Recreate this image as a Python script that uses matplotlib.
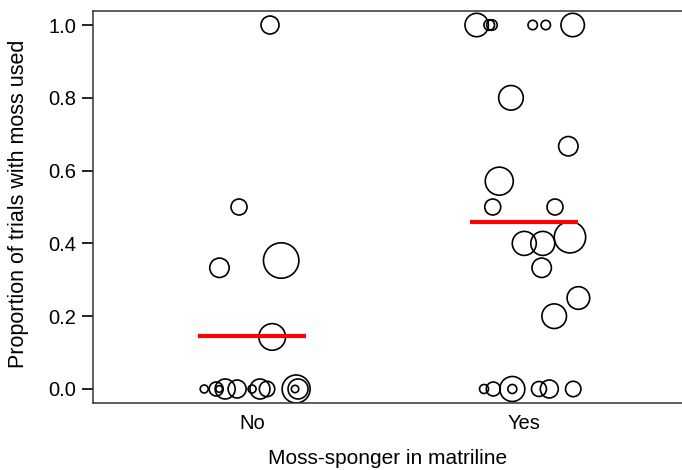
import numpy as np
import matplotlib
matplotlib.use('Agg')
import matplotlib.pyplot as plt

plt.rcParams['font.family'] = ['Liberation Sans', 'DejaVu Sans']

# group labels and positions
groups = ['No', 'Yes']

# "No" matriline: jitter offset, proportion, bubble radius (px)
no_jit = [0.066, -0.048, -0.120, 0.107, 0.074,
          -0.176, -0.132, -0.121, -0.099, -0.055, 0.0, 0.029, 0.055, 0.162, 0.169, 0.158]
no_prop = [1.0, 0.5, 0.333, 0.353, 0.143,
           0, 0, 0, 0, 0, 0, 0, 0, 0, 0, 0]
no_r = [9, 8, 9.7, 17.7, 13.3,
        4, 7, 3.3, 10, 9, 4, 10, 7.7, 14, 10, 3.7]

# "Yes" matriline
yes_jit = [-0.174, -0.128, -0.118, 0.032, 0.080, 0.179,
           -0.048, 0.163, -0.091, -0.115, 0.114, 0.001, 0.069, 0.169, 0.065, 0.200, 0.111,
           -0.147, -0.113, -0.043, -0.043, 0.055, 0.093, 0.181]
yes_prop = [1.0, 1.0, 1.0, 1.0, 1.0, 1.0,
            0.8, 0.667, 0.571, 0.5, 0.5, 0.4, 0.4, 0.417, 0.333, 0.25, 0.2,
            0, 0, 0, 0, 0, 0, 0]
yes_r = [11.7, 5.3, 5.3, 4.7, 4.7, 11.7,
         12.3, 9.7, 14, 8, 8, 12, 12, 15.7, 9.7, 11.3, 12.3,
         4.5, 7, 12.5, 4.5, 7.5, 9, 7.7]

dpi = 100
W, H = 682, 470
fig = plt.figure(figsize=(W / dpi, H / dpi), dpi=dpi)
ax = fig.add_axes([93 / W, 67 / H, 589 / W, 392 / H])


def to_s(radii):
    # radius in px -> scatter size in pt^2
    return (2 * np.array(radii) * 72 / dpi) ** 2


for i, (jit, prop, r) in enumerate([(no_jit, no_prop, no_r), (yes_jit, yes_prop, yes_r)]):
    x = i + 1 + np.array(jit)
    ax.scatter(x, prop, s=to_s(r), facecolors='none', edgecolors='black',
               linewidths=1.2, zorder=2)
    m = np.mean(prop)
    ax.plot([i + 1 - 0.2, i + 1 + 0.2], [m, m], color='red', lw=3, zorder=3,
            solid_capstyle='butt')

ax.set_xlim(0.415, 2.581)
ax.set_ylim(-0.0385, 1.0385)
ax.set_xticks([1, 2])
ax.set_xticklabels(groups, fontsize=14.5)
yt = np.arange(0, 1.01, 0.2)
ax.set_yticks(yt)
ax.set_yticklabels(['%.1f' % v for v in yt], fontsize=14.5)
ax.tick_params(axis='x', length=0, pad=8)
ax.tick_params(axis='y', length=8, width=1.2, pad=4)
ax.spines['right'].set_visible(False)
for sp in ['left', 'top', 'bottom']:
    ax.spines[sp].set_linewidth(1.1)
    ax.spines[sp].set_color('#333333')

fig.text(387.5 / W, 5.5 / H, 'Moss-sponger in matriline', fontsize=15,
         ha='center', va='baseline')
fig.text(19 / W, (H - 204) / H, 'Proportion of trials with moss used', fontsize=15.5,
         ha='center', va='center', rotation=90)

fig.savefig('out.png', dpi=dpi)
